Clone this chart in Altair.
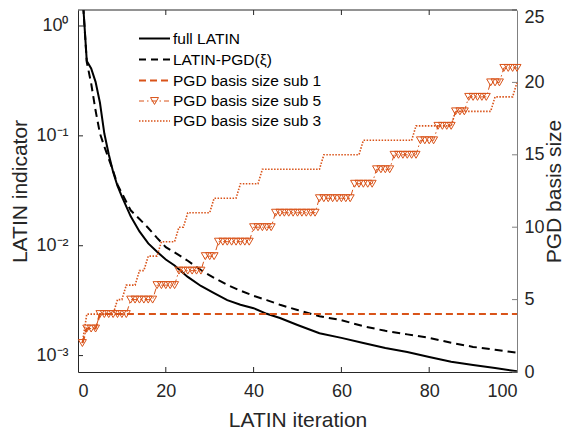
import altair as alt
import pandas as pd

W, H = 439, 362
ORANGE = "#D95319"
DARK = "#262626"
FONT = "Liberation Sans"

# ---- black curves (LATIN indicator, log axis) ----
iters_black = [1, 2, 3, 4, 5, 6, 7, 8, 9, 10, 12, 14, 16, 18, 20, 22, 25, 28, 31, 34,
               37, 40, 43, 46, 50, 55, 60, 65, 70, 75, 80, 85, 90, 95, 100]
full_latin = [2.0, 0.48, 0.41, 0.31, 0.20, 0.105, 0.068, 0.047, 0.035, 0.028, 0.0185, 0.0135,
              0.0105, 0.0088, 0.0075, 0.0066, 0.0052, 0.0043, 0.0037, 0.0032,
              0.0029, 0.0027, 0.0024, 0.0022, 0.0019, 0.0016, 0.00145, 0.0013, 0.00117,
              0.00108, 0.00097, 0.00088, 0.00082, 0.00077, 0.00072]
latin_pgd = [2.0, 0.47, 0.30, 0.17, 0.105, 0.08, 0.062, 0.048, 0.036, 0.030, 0.021, 0.0175,
             0.0145, 0.0118, 0.0097, 0.0087, 0.0073, 0.0060, 0.0051, 0.0044,
             0.0039, 0.0035, 0.0032, 0.0029, 0.0026, 0.00228, 0.0021, 0.00185, 0.00168,
             0.00156, 0.00145, 0.00131, 0.0012, 0.00113, 0.00106]

# ---- PGD basis sizes (right axis), read as level / number of iterations ----
sub1_levels = [2, 3, 4]
sub1_runs = [1, 3, 96]
sub5_levels = [2, 3, 4, 5, 6, 7, 8, 9, 10, 11, 12, 13, 14, 15, 16, 17, 18, 19, 20, 21]
sub5_runs = [1, 3, 7, 6, 5, 6, 3, 8, 5, 10, 8, 5, 4, 6, 4, 4, 3, 5, 3, 4]
sub3_levels = [2, 4, 5, 6, 7, 8, 9, 10, 11, 12, 13, 14, 15, 16, 17, 18, 19, 20]
sub3_runs = [1, 7, 2, 3, 2, 3, 4, 2, 6, 6, 5, 14, 9, 12, 9, 9, 5, 1]

x_ticks = [0, 20, 40, 60, 80, 100]
left_ticks = [0.001, 0.01, 0.1, 1]
right_ticks = [0, 5, 10, 15, 20, 25]

legend_labels = ["full LATIN", "LATIN-PGD(\u03be)", "PGD basis size sub 1",
                 "PGD basis size sub 5", "PGD basis size sub 3"]


def expand(levels, runs):
    out = []
    for lv, n in zip(levels, runs):
        out += [lv] * n
    return out


iters = list(range(1, 101))
df_black = pd.DataFrame({"iter": iters_black, "full": full_latin, "pgd": latin_pgd})
df_orange = pd.DataFrame({"iter": iters,
                          "sub1": expand(sub1_levels, sub1_runs),
                          "sub5": expand(sub5_levels, sub5_runs),
                          "sub3": expand(sub3_levels, sub3_runs)})
df_xt = pd.DataFrame({"v": x_ticks[1:-1]})
df_lt = pd.DataFrame({"v": left_ticks})
df_rt = pd.DataFrame({"v": right_ticks})

x_scale = alt.Scale(domain=[0, 100], nice=False, zero=False)
x_axis = alt.Axis(values=x_ticks, title="LATIN iteration", ticks=False, tickSize=0,
                  domainColor=DARK, domainWidth=1, labelFontSize=18, labelColor=DARK,
                  labelPadding=10, titleFontSize=21, titleFontWeight="normal",
                  titleColor=DARK, grid=False, titleY=54, titleBaseline="alphabetic",
                  labelFont=FONT, titleFont=FONT)
X = alt.X("iter:Q", scale=x_scale, axis=x_axis)

yl_scale = alt.Scale(type="log", domain=[7.09e-4, 1.398], nice=False)
yl_axis = alt.Axis(values=left_ticks, orient="left", title="LATIN indicator",
                   labelExpr="datum.value >= 0.5 ? '10\u2070' : datum.value >= 0.05 ? '10\u207b\u00b9' : datum.value >= 0.005 ? '10\u207b\u00b2' : '10\u207b\u00b3'",
                   ticks=False, tickSize=0, domainColor=DARK, domainWidth=1,
                   labelFontSize=18, labelColor=DARK, labelPadding=10, grid=False,
                   titleFontSize=21, titleFontWeight="normal", titleColor=DARK,
                   titleX=-52, titleY=H / 2, titleAngle=270, titleBaseline="alphabetic",
                   titleAlign="center", labelFont=FONT, titleFont=FONT)

yr_scale = alt.Scale(domain=[0, 25], nice=False, zero=False)
yr_axis = alt.Axis(values=right_ticks, orient="right", title="PGD basis size",
                   ticks=False, tickSize=0, domainColor="#808080", domainWidth=1,
                   labelFontSize=18, labelColor=DARK, labelPadding=7, grid=False,
                   labelBaseline={"condition": {"test": "datum.value == 25", "value": "top"}, "value": "middle"},
                   labelOffset={"condition": {"test": "datum.value == 25", "value": -2}, "value": 0},
                   titleFontSize=21, titleFontWeight="normal", titleColor=DARK,
                   titleX=43, titleY=H / 2, titleAngle=270, titleBaseline="alphabetic",
                   titleAlign="center", labelFont=FONT, titleFont=FONT)

# left group
solid = alt.Chart(df_black).mark_line(color="black", strokeWidth=2, clip=True).encode(
    x=X, y=alt.Y("full:Q", scale=yl_scale, axis=yl_axis))
dashed = alt.Chart(df_black).mark_line(color="black", strokeWidth=2, strokeDash=[8, 5], clip=True).encode(
    x=X, y=alt.Y("pgd:Q", scale=yl_scale, axis=yl_axis))
lticks = alt.Chart(df_lt).mark_rule(color=DARK, strokeWidth=1).encode(
    y=alt.Y("v:Q", scale=yl_scale, axis=yl_axis), x=alt.value(0), x2=alt.value(5))
xt_bottom = alt.Chart(df_xt).mark_rule(color=DARK, strokeWidth=1).encode(
    x=alt.X("v:Q", scale=x_scale, axis=x_axis), y=alt.value(H - 5), y2=alt.value(H))
xt_top = alt.Chart(df_xt).mark_rule(color=DARK, strokeWidth=1).encode(
    x=alt.X("v:Q", scale=x_scale, axis=x_axis), y=alt.value(0), y2=alt.value(5))
left_group = alt.layer(solid, dashed, lticks, xt_bottom, xt_top)

# right group
Yr = lambda f: alt.Y(f + ":Q", scale=yr_scale, axis=yr_axis)
o1 = alt.Chart(df_orange).mark_line(color=ORANGE, strokeWidth=2, strokeDash=[7, 4]).encode(x=X, y=Yr("sub1"))
o5l = alt.Chart(df_orange).mark_line(color=ORANGE, strokeWidth=1, strokeDash=[6, 3, 1.5, 3]).encode(x=X, y=Yr("sub5"))
o5p = alt.Chart(df_orange).mark_point(shape="triangle-down", filled=False, size=64,
                                      color=ORANGE, strokeWidth=1, opacity=1).encode(x=X, y=Yr("sub5"))
o3 = alt.Chart(df_orange).mark_line(color=ORANGE, strokeWidth=1.6, strokeDash=[1.5, 1.5]).encode(x=X, y=Yr("sub3"))
rticks = alt.Chart(df_rt).mark_rule(color="#808080", strokeWidth=1).encode(
    y=Yr("v"), x=alt.value(W - 5), x2=alt.value(W))
right_group = alt.layer(o1, o5l, o5p, o3, rticks)

# box top edge and legend
one = alt.Data(values=[{}])
top_edge = alt.Chart(one).mark_rule(color=DARK, strokeWidth=1).encode(
    x=alt.value(0), x2=alt.value(W), y=alt.value(0))

leg_y = [28.5, 49.5, 70.5, 91, 111]
leg_styles = [("black", 2, None), ("black", 2, [7, 5]), (ORANGE, 2, [7, 4]),
              (ORANGE, 1, [5, 3, 1.5, 3]), (ORANGE, 1.6, [1.5, 1.5])]
legend_layers = []
for lab, ly, (col, sw, dash) in zip(legend_labels, leg_y, leg_styles):
    kw = dict(color=col, strokeWidth=sw)
    if dash is not None:
        kw["strokeDash"] = dash
    legend_layers.append(alt.Chart(one).mark_rule(**kw).encode(
        x=alt.value(61), x2=alt.value(92), y=alt.value(ly)))
    legend_layers.append(alt.Chart(one).mark_text(text=lab, align="left", baseline="middle",
                                                  font=FONT, fontSize=15.5, color="black").encode(
        x=alt.value(95), y=alt.value(ly)))
legend_layers.append(alt.Chart(one).mark_point(shape="triangle-down", filled=False, size=64,
                                               color=ORANGE, strokeWidth=1, opacity=1).encode(
    x=alt.value(76.5), y=alt.value(leg_y[3])))

chart = alt.layer(left_group, right_group, top_edge, *legend_layers).resolve_scale(
    y="independent").properties(
    width=W, height=H,
    padding={"left": 70, "top": 2, "right": 47, "bottom": 58},
    autosize=alt.AutoSizeParams(type="none"),
    background="white",
).configure_view(stroke=None)

chart.save("out.html", embed_options={"renderer": "svg", "actions": False})
